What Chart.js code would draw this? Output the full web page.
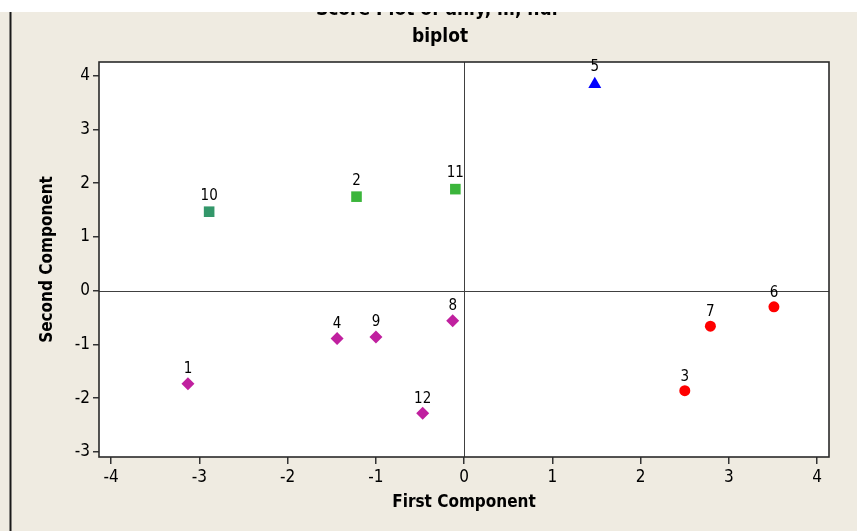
<!DOCTYPE html>
<html>
<head>
<meta charset="utf-8">
<script src="https://cdn.jsdelivr.net/npm/chart.js@4"></script>
<style>
  body { margin: 0; background: #efebe1; }
  canvas { display: block; }
</style>
</head>
<body>
<canvas id="biplot" width="857" height="531"></canvas>
<script>
'use strict';

// scores
const ids    = ['1', '2', '3', '4', '5', '6', '7', '8', '9', '10', '11', '12'];
const first  = [-3.13, -1.22, 2.50, -1.44, 1.48, 3.51, 2.79, -0.13, -1.00, -2.89, -0.10, -0.47];
const second = [-1.73, 1.75, -1.86, -0.89, 3.84, -0.30, -0.66, -0.56, -0.86, 1.47, 1.89, -2.28];
const groups = ['D', 'B', 'E', 'D', 'C', 'E', 'E', 'D', 'D', 'A', 'B', 'D'];

const xTicks = [-4, -3, -2, -1, 0, 1, 2, 3, 4];
const yTicks = [-3, -2, -1, 0, 1, 2, 3, 4];

const titleLines = ['Score Plot of anly, m, nur', 'biplot'];
const xTitle = 'First Component';
const yTitle = 'Second Component';

// marker style per group
const groupStyle = {
    A: { shape: 'rect',     color: '#33976a', radius: 7.5, gap: 16 },
    B: { shape: 'rect',     color: '#3bb53b', radius: 7.5, gap: 16 },
    C: { shape: 'triangle', color: '#0000ff', radius: 7.5, gap: 17 },
    D: { shape: 'rectRot',  color: '#c0209f', radius: 6.5, gap: 14.5 },
    E: { shape: 'circle',   color: '#ff0000', radius: 5.5, gap: 14 }
};

const FONT = "'DejaVu Sans Condensed', 'DejaVu Sans', sans-serif";

const datasets = Object.keys(groupStyle).map(g => {
    const st = groupStyle[g];
    const pts = [];
    const labels = [];
    ids.forEach((id, i) => {
        if (groups[i] === g) {
            pts.push({ x: first[i], y: second[i] });
            labels.push(id);
        }
    });
    return {
        data: pts,
        pointLabels: labels,
        labelGap: st.gap,
        pointStyle: st.shape,
        pointRadius: st.radius,
        pointHoverRadius: st.radius,
        pointBackgroundColor: st.color,
        pointBorderWidth: 0,
        showLine: false
    };
});

const frame = {
    id: 'frame',
    beforeDraw(chart) {
        const { ctx, chartArea: a } = chart;
        ctx.save();
        ctx.fillStyle = '#efebe1';
        ctx.fillRect(0, 0, chart.width, chart.height);
        ctx.fillStyle = '#ffffff';
        ctx.fillRect(a.left, a.top, a.right - a.left, a.bottom - a.top);
        ctx.restore();
    },
    beforeDatasetsDraw(chart) {
        const { ctx, chartArea: a, scales } = chart;
        const x0 = Math.round(scales.x.getPixelForValue(0)) + 0.5;
        const y0 = Math.round(scales.y.getPixelForValue(0)) + 0.5;
        ctx.save();
        ctx.strokeStyle = '#404040';
        ctx.lineWidth = 1;
        ctx.beginPath();
        ctx.moveTo(x0, a.top);
        ctx.lineTo(x0, a.bottom);
        ctx.moveTo(a.left, y0);
        ctx.lineTo(a.right, y0);
        ctx.stroke();
        ctx.strokeStyle = '#2a2a2a';
        ctx.lineWidth = 1.6;
        ctx.strokeRect(a.left, a.top, a.right - a.left, a.bottom - a.top);
        ctx.restore();
    },
    afterDatasetsDraw(chart) {
        const { ctx } = chart;
        ctx.save();
        ctx.fillStyle = '#000';
        ctx.font = '15px ' + FONT;
        ctx.textAlign = 'center';
        ctx.textBaseline = 'middle';
        chart.data.datasets.forEach((ds, di) => {
            chart.getDatasetMeta(di).data.forEach((el, i) => {
                ctx.fillText(ds.pointLabels[i], el.x, el.y - ds.labelGap);
            });
        });
        ctx.restore();
    },
    afterDraw(chart) {
        const { ctx } = chart;
        ctx.save();
        ctx.fillStyle = '#000';
        ctx.textAlign = 'center';
        ctx.textBaseline = 'alphabetic';
        ctx.font = 'bold 19px ' + FONT;
        ctx.fillText(titleLines[0], 438, 15);
        ctx.fillText(titleLines[1], 440, 42);
        // white strip across the top, cutting the first title line
        ctx.fillStyle = '#ffffff';
        ctx.fillRect(0, 0, chart.width, 12);
        ctx.fillStyle = '#1a1a1a';
        ctx.fillRect(9.5, 12, 2, chart.height - 12);
        ctx.restore();
    }
};

const tickFont = { family: FONT, size: 17 };
const axisTitleFont = { family: FONT, size: 17, weight: 'bold' };

new Chart(document.getElementById('biplot').getContext('2d'), {
    type: 'scatter',
    data: { datasets: datasets },
    options: {
        responsive: false,
        animation: false,
        layout: { padding: { left: 0, right: 28, top: 62, bottom: 0 } },
        plugins: { legend: { display: false }, tooltip: { enabled: false } },
        scales: {
            x: {
                type: 'linear',
                min: -4.138,
                max: 4.134,
                afterBuildTicks: s => { s.ticks = xTicks.map(v => ({ value: v })); },
                afterFit: s => { s.height = 74; },
                ticks: { color: '#000', font: tickFont, padding: 3, maxRotation: 0 },
                grid: { drawOnChartArea: false, drawTicks: true, tickLength: 7, color: '#333', lineWidth: 1.5 },
                border: { display: false },
                title: { display: true, text: xTitle, color: '#000', font: axisTitleFont, padding: { top: 0, bottom: 18 } }
            },
            y: {
                type: 'linear',
                min: -3.093,
                max: 4.255,
                afterBuildTicks: s => { s.ticks = yTicks.map(v => ({ value: v })); },
                afterFit: s => { s.width = 99; },
                ticks: { color: '#000', font: tickFont, padding: 3 },
                grid: { drawOnChartArea: false, drawTicks: true, tickLength: 6, color: '#333', lineWidth: 1.5 },
                border: { display: false },
                title: { display: true, text: yTitle, color: '#000', font: axisTitleFont, padding: { top: 37, bottom: 0 } }
            }
        }
    },
    plugins: [frame]
});
</script>
</body>
</html>
